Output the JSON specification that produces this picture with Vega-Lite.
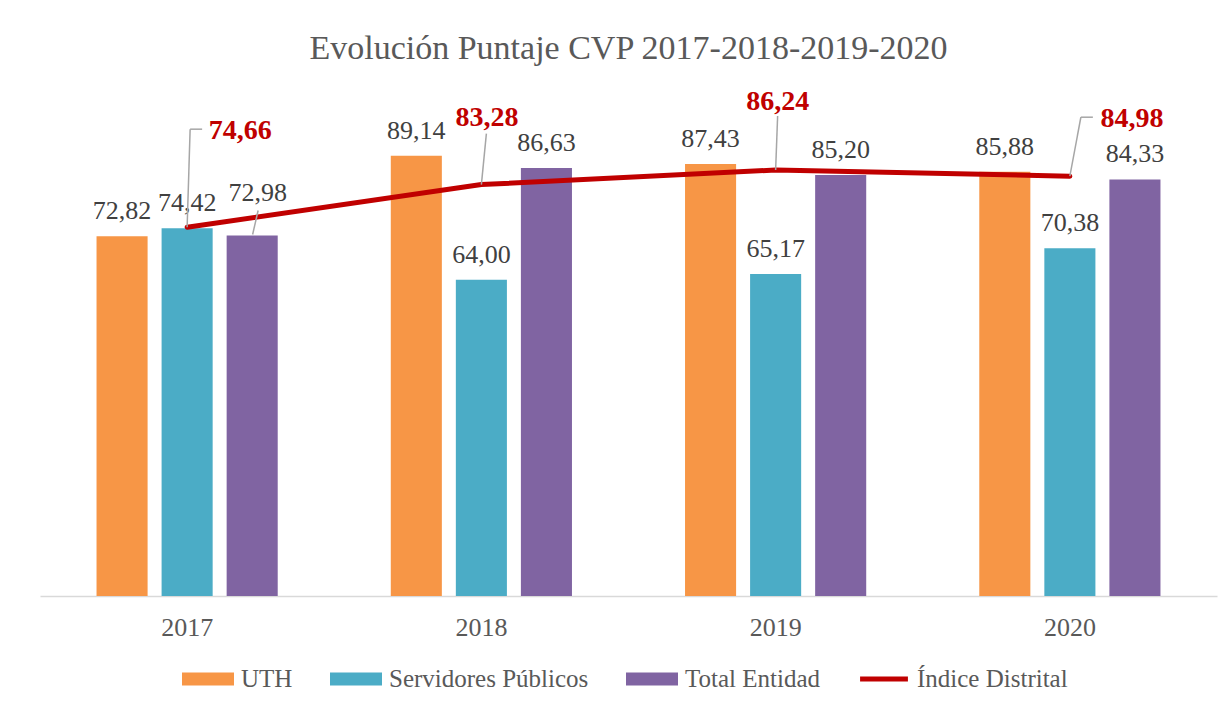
{
  "$schema": "https://vega.github.io/schema/vega-lite/v6.json",
  "autosize": {"type": "none"},
  "width": 1177,
  "height": 494,
  "padding": {"left": 40, "top": 102, "right": 15, "bottom": 109},
  "background": "white",
  "title": {
    "text": "Evolución Puntaje CVP 2017-2018-2019-2020",
    "font": "Liberation Serif",
    "fontSize": 34,
    "fontWeight": "normal",
    "color": "#595959",
    "anchor": "middle",
    "offset": 22
  },
  "data": {
    "values": [
      {"year": "2017", "serie": "UTH", "value": 72.82},
      {"year": "2017", "serie": "Servidores Públicos", "value": 74.42},
      {"year": "2017", "serie": "Total Entidad", "value": 72.98},
      {"year": "2017", "serie": "Índice Distrital", "value": 74.66},
      {"year": "2018", "serie": "UTH", "value": 89.14},
      {"year": "2018", "serie": "Servidores Públicos", "value": 64.00},
      {"year": "2018", "serie": "Total Entidad", "value": 86.63},
      {"year": "2018", "serie": "Índice Distrital", "value": 83.28},
      {"year": "2019", "serie": "UTH", "value": 87.43},
      {"year": "2019", "serie": "Servidores Públicos", "value": 65.17},
      {"year": "2019", "serie": "Total Entidad", "value": 85.20},
      {"year": "2019", "serie": "Índice Distrital", "value": 86.24},
      {"year": "2020", "serie": "UTH", "value": 85.88},
      {"year": "2020", "serie": "Servidores Públicos", "value": 70.38},
      {"year": "2020", "serie": "Total Entidad", "value": 84.33},
      {"year": "2020", "serie": "Índice Distrital", "value": 84.98}
    ]
  },
  "transform": [
    {"calculate": "replace(format(datum.value, '.2f'), '.', ',')", "as": "label"}
  ],
  "encoding": {
    "x": {
      "field": "year",
      "type": "nominal",
      "scale": {"paddingInner": 0, "paddingOuter": 0},
      "axis": {
        "title": null,
        "labelAngle": 0,
        "ticks": false,
        "tickSize": 0,
        "labelPadding": 31,
        "labelBaseline": "middle",
        "labelFont": "Liberation Serif",
        "labelFontSize": 26,
        "labelColor": "#595959",
        "domainColor": "#D9D9D9",
        "domainWidth": 1.5,
        "grid": false
      }
    },
    "y": {
      "field": "value",
      "type": "quantitative",
      "scale": {"domain": [0, 100], "nice": false, "zero": true},
      "axis": null
    }
  },
  "layer": [
    {
      "transform": [{"filter": "datum.serie !== 'Índice Distrital'"}],
      "mark": {"type": "bar"},
      "encoding": {
        "xOffset": {
          "field": "serie",
          "type": "nominal",
          "scale": {"domain": ["UTH", "Servidores Públicos", "Total Entidad"], "paddingInner": 0.215, "paddingOuter": 0.869}
        },
        "color": {
          "field": "serie",
          "type": "nominal",
          "scale": {
            "domain": ["UTH", "Servidores Públicos", "Total Entidad", "Índice Distrital"],
            "range": ["#F79646", "#4BACC6", "#8064A2", "#C00000"]
          },
          "legend": {
            "title": null,
            "orient": "none",
            "direction": "horizontal",
            "columns": 4,
            "legendX": 142,
            "legendY": 551,
            "symbolType": "M-1,-0.25H1V0.25H-1Z",
            "symbolSize": 2704,
            "symbolStrokeWidth": 0,
            "labelFont": "Liberation Serif",
            "labelFontSize": 25,
            "labelColor": "#595959",
            "labelOffset": 7,
            "labelLimit": 500,
            "columnPadding": 37,
            "encode": {
              "symbols": {
                "update": {
                  "shape": {"signal": "datum.value === 'Índice Distrital' ? 'M-0.92,-0.1H0.92V0.1H-0.92Z' : 'M-1,-0.25H1V0.25H-1Z'"},
                  "fill": {"signal": "scale('color', datum.value)"},
                  "fillOpacity": {"value": 1},
                  "strokeWidth": {"value": 0}
                }
              }
            }
          }
        }
      }
    },
    {
      "transform": [{"filter": "datum.serie === 'Índice Distrital'"}],
      "mark": {"type": "line", "strokeWidth": 5, "strokeCap": "round", "strokeJoin": "round"},
      "encoding": {
        "color": {"field": "serie", "type": "nominal"}
      }
    },
    {
      "transform": [{"filter": "datum.serie !== 'Índice Distrital' && !(datum.year === '2017' && datum.serie === 'Total Entidad')"}],
      "mark": {"type": "text", "font": "Liberation Serif", "fontSize": 26, "color": "#404040", "baseline": "middle", "dy": -25},
      "encoding": {
        "xOffset": {"field": "serie", "type": "nominal"},
        "text": {"field": "label"}
      }
    },
    {
      "transform": [{"filter": "datum.year === '2017' && datum.serie === 'Total Entidad'"}],
      "layer": [
        {
          "mark": {"type": "rule", "color": "#A6A6A6", "strokeWidth": 1.5, "xOffset": 65.5, "x2Offset": 71, "yOffset": -1, "y2Offset": -25},
          "encoding": {
            "x": {"field": "year", "type": "nominal", "bandPosition": 0.5},
            "x2": {"field": "year", "bandPosition": 0.5},
            "y2": {"field": "value"}
          }
        },
        {
          "mark": {"type": "text", "font": "Liberation Serif", "fontSize": 26, "color": "#404040", "baseline": "middle", "dx": 70.5, "dy": -42},
          "encoding": {"text": {"field": "label"}}
        }
      ]
    },
    {
      "transform": [{"filter": "datum.serie === 'Índice Distrital' && datum.year === '2017'"}],
      "layer": [
        {
          "mark": {"type": "rule", "color": "#A6A6A6", "strokeWidth": 1.5, "xOffset": 0, "x2Offset": 3, "yOffset": 0, "y2Offset": -98},
          "encoding": {"x": {"field": "year", "type": "nominal", "bandPosition": 0.5}, "x2": {"field": "year", "bandPosition": 0.5}, "y2": {"field": "value"}}
        },
        {
          "mark": {"type": "rule", "color": "#A6A6A6", "strokeWidth": 1.5, "xOffset": 3, "x2Offset": 15, "yOffset": -98, "y2Offset": -98},
          "encoding": {"x": {"field": "year", "type": "nominal", "bandPosition": 0.5}, "x2": {"field": "year", "bandPosition": 0.5}, "y2": {"field": "value"}}
        },
        {
          "mark": {"type": "text", "font": "Liberation Serif", "fontSize": 28, "fontWeight": "bold", "color": "#C00000", "baseline": "middle", "dx": 53, "dy": -96},
          "encoding": {"text": {"field": "label"}}
        }
      ]
    },
    {
      "transform": [{"filter": "datum.serie === 'Índice Distrital' && datum.year === '2018'"}],
      "layer": [
        {
          "mark": {"type": "rule", "color": "#A6A6A6", "strokeWidth": 1.5, "xOffset": 0, "x2Offset": 5, "yOffset": 0, "y2Offset": -51},
          "encoding": {"x": {"field": "year", "type": "nominal", "bandPosition": 0.5}, "x2": {"field": "year", "bandPosition": 0.5}, "y2": {"field": "value"}}
        },
        {
          "mark": {"type": "text", "font": "Liberation Serif", "fontSize": 28, "fontWeight": "bold", "color": "#C00000", "baseline": "middle", "dx": 5.5, "dy": -67},
          "encoding": {"text": {"field": "label"}}
        }
      ]
    },
    {
      "transform": [{"filter": "datum.serie === 'Índice Distrital' && datum.year === '2019'"}],
      "layer": [
        {
          "mark": {"type": "rule", "color": "#A6A6A6", "strokeWidth": 1.5, "xOffset": 0, "x2Offset": 2, "yOffset": 0, "y2Offset": -54},
          "encoding": {"x": {"field": "year", "type": "nominal", "bandPosition": 0.5}, "x2": {"field": "year", "bandPosition": 0.5}, "y2": {"field": "value"}}
        },
        {
          "mark": {"type": "text", "font": "Liberation Serif", "fontSize": 28, "fontWeight": "bold", "color": "#C00000", "baseline": "middle", "dx": 2, "dy": -68},
          "encoding": {"text": {"field": "label"}}
        }
      ]
    },
    {
      "transform": [{"filter": "datum.serie === 'Índice Distrital' && datum.year === '2020'"}],
      "layer": [
        {
          "mark": {"type": "rule", "color": "#A6A6A6", "strokeWidth": 1.5, "xOffset": 0, "x2Offset": 11, "yOffset": 0, "y2Offset": -59},
          "encoding": {"x": {"field": "year", "type": "nominal", "bandPosition": 0.5}, "x2": {"field": "year", "bandPosition": 0.5}, "y2": {"field": "value"}}
        },
        {
          "mark": {"type": "rule", "color": "#A6A6A6", "strokeWidth": 1.5, "xOffset": 11, "x2Offset": 23, "yOffset": -59, "y2Offset": -59},
          "encoding": {"x": {"field": "year", "type": "nominal", "bandPosition": 0.5}, "x2": {"field": "year", "bandPosition": 0.5}, "y2": {"field": "value"}}
        },
        {
          "mark": {"type": "text", "font": "Liberation Serif", "fontSize": 28, "fontWeight": "bold", "color": "#C00000", "baseline": "middle", "dx": 62, "dy": -57},
          "encoding": {"text": {"field": "label"}}
        }
      ]
    }
  ],
  "config": {
    "view": {"stroke": null},
    "font": "Liberation Serif"
  }
}
